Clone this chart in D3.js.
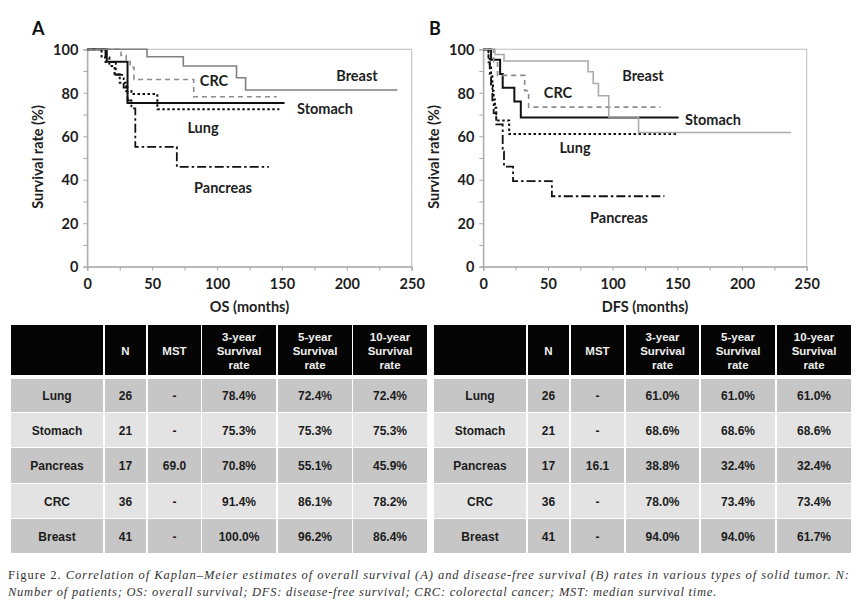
<!DOCTYPE html>
<html><head><meta charset="utf-8">
<script src="https://cdn.jsdelivr.net/npm/d3@7"></script>
<style>
html,body{margin:0;padding:0;background:#fff;}
svg{display:block;}
</style></head>
<body>
<svg id="chart" width="865" height="610"></svg>
<script>
// ---------- DATA ----------
const tumors = ["Lung", "Stomach", "Pancreas", "CRC", "Breast"];
const xTicks = [0, 50, 100, 150, 200, 250];
const yTicks = [0, 20, 40, 60, 80, 100];

// Overall survival (panel A): [months, survival %] step points
const osLung     = [[0,100],[11,96.2],[17,92.3],[21,88.5],[25,84.6],[30,80.8],[34,79.4],[54,72.4],[148,72.4]];
const osStomach  = [[0,100],[15,94.3],[31,75.3],[152,75.3]];
const osPancreas = [[0,100],[14,94.1],[22,88.2],[28,82.4],[31,76.5],[34,72.8],[37,55.1],[69,45.9],[140,45.9]];
const osCRC      = [[0,100],[26,97.2],[30,94.4],[33,91.7],[36,86.1],[82,78.2],[146,78.2]];
const osBreast   = [[0,100],[46,96.6],[74,92.3],[115,86.9],[122,81.3],[239,81.3]];

// Disease-free survival (panel B)
const dfsLung     = [[0,100],[4,96.2],[5,92.3],[6,88.5],[7,84.6],[7.5,80.8],[8,76.9],[9,73.1],[10,67.3],[20,61.0],[150,61.0]];
const dfsStomach  = [[0,100],[6,95.2],[13,88.6],[15,82.3],[24,76.0],[29,68.6],[151,68.6]];
const dfsPancreas = [[0,100],[4,94.1],[5,88.2],[6,82.4],[7,76.5],[8,70.6],[10,65.5],[15,52.9],[16,46.0],[23,39.4],[53,32.4],[140,32.4]];
const dfsCRC      = [[0,100],[8,94.4],[11,88.0],[32,81.0],[35,73.4],[137,73.4]];
const dfsBreast   = [[0,100],[9,97.6],[16,94.6],[81,89.7],[85,84.3],[89,78.6],[97,68.9],[120,61.7],[238,61.7]];

// Table values
const patientsN = ["26", "21", "17", "36", "41"];
const osMST  = ["-", "-", "69.0", "-", "-"];
const os3yr  = ["78.4%", "75.3%", "70.8%", "91.4%", "100.0%"];
const os5yr  = ["72.4%", "75.3%", "55.1%", "86.1%", "96.2%"];
const os10yr = ["72.4%", "75.3%", "45.9%", "78.2%", "86.4%"];
const dfsMST  = ["-", "-", "16.1", "-", "-"];
const dfs3yr  = ["61.0%", "68.6%", "38.8%", "78.0%", "94.0%"];
const dfs5yr  = ["61.0%", "68.6%", "32.4%", "73.4%", "94.0%"];
const dfs10yr = ["61.0%", "68.6%", "32.4%", "73.4%", "61.7%"];
const tableHeaders = [[""], ["N"], ["MST"], ["3-year","Survival","rate"], ["5-year","Survival","rate"], ["10-year","Survival","rate"]];

const captionLead = "Figure 2. ";
const captionLine1 = "Correlation of Kaplan–Meier estimates of overall survival (A) and disease-free survival (B) rates in various types of solid tumor. N:";
const captionLine2 = "Number of patients; OS: overall survival; DFS: disease-free survival; CRC: colorectal cancer; MST: median survival time.";

// ---------- DRAW ----------
const svg = d3.select("#chart");
const chartFont = "Lato, 'Open Sans', sans-serif";

const styles = {
  Lung:     {stroke:"#111", width:2,   dash:"2.5,2.5"},
  Stomach:  {stroke:"#111", width:2,   dash:null},
  Pancreas: {stroke:"#111", width:1.8, dash:"9,3,2.5,3"},
  CRC:      {stroke:"#8c8c8c", width:1.6, dash:"5,4"},
  Breast:   {stroke:"#808080", width:1.6, dash:null}
};

function panel(opts) {
  const x = d3.scaleLinear().domain([0, 250]).range([opts.x0, opts.x1]);
  const y = d3.scaleLinear().domain([0, 100]).range([266.7, 49.3]);
  const g = svg.append("g");

  g.append("rect").attr("x", x(0)).attr("y", y(100))
    .attr("width", x(250) - x(0)).attr("height", y(0) - y(100))
    .attr("fill", "none").attr("stroke", "#c8c8c8").attr("stroke-width", 1.2);

  const yAxis = d3.axisLeft(y).tickValues(d3.range(0, 101, 10)).tickSize(4)
    .tickFormat(d => yTicks.includes(d) ? d : "");
  const xAxis = d3.axisBottom(x).tickValues(d3.range(0, 251, 25)).tickSize(4)
    .tickFormat(d => xTicks.includes(d) ? d : "");
  const ya = g.append("g").attr("transform", `translate(${x(0)},0)`).call(yAxis);
  const xa = g.append("g").attr("transform", `translate(0,${y(0)})`).call(xAxis);
  [ya, xa].forEach(a => {
    a.select(".domain").attr("stroke", "#a8a8a8").attr("stroke-width", 1.2);
    a.selectAll(".tick line").attr("stroke", "#a8a8a8").attr("stroke-width", 1);
    a.selectAll(".tick text").attr("font-family", chartFont).attr("font-weight", 700)
      .attr("font-size", 14.5).attr("fill", "#1e1e1e");
  });
  ya.selectAll(".tick text").attr("x", -9).attr("dy", "0.36em");
  xa.selectAll(".tick text").attr("y", 12);

  const line = d3.line().x(d => x(d[0])).y(d => y(d[1])).curve(d3.curveStepAfter);
  opts.series.forEach((s, i) => {
    const st = Object.assign({}, styles[tumors[i]]);
    if (tumors[i] === "Breast" && opts.breastColor) st.stroke = opts.breastColor;
    g.append("path").datum(s).attr("d", line).attr("fill", "none")
      .attr("stroke", st.stroke).attr("stroke-width", st.width)
      .attr("stroke-dasharray", st.dash);
  });

  opts.labels.forEach((p, i) => {
    g.append("text").attr("x", p[0]).attr("y", p[1]).text(tumors[i])
      .attr("text-anchor", "middle").attr("dominant-baseline", "central")
      .attr("font-family", chartFont).attr("font-weight", 700).attr("font-size", 14.5)
      .attr("fill", "#1e1e1e");
  });

  g.append("text").attr("x", opts.letterX).attr("y", 35).text(opts.letter)
    .attr("font-family", chartFont).attr("font-weight", 700).attr("font-size", 18).attr("fill", "#111");
  g.append("text").attr("transform", `translate(${opts.x0 - 50},157) rotate(-90)`)
    .text("Survival rate (%)").attr("text-anchor", "middle").attr("dominant-baseline", "central")
    .attr("font-family", chartFont).attr("font-weight", 700).attr("font-size", 14.5).attr("fill", "#1e1e1e");
  g.append("text").attr("x", (opts.x0 + opts.x1) / 2).attr("y", 312).text(opts.xTitle)
    .attr("text-anchor", "middle")
    .attr("font-family", chartFont).attr("font-weight", 700).attr("font-size", 14.5).attr("fill", "#1e1e1e");
}

// label positions in the order of `tumors`: Lung, Stomach, Pancreas, CRC, Breast
panel({x0: 87.3, x1: 411.7, letter: "A", letterX: 32, xTitle: "OS (months)",
  series: [osLung, osStomach, osPancreas, osCRC, osBreast],
  labels: [[203,127],[325,108],[223,187],[214,80],[357,75]]});
panel({x0: 483.3, x1: 806.7, letter: "B", letterX: 429, xTitle: "DFS (months)", breastColor: "#ababab",
  series: [dfsLung, dfsStomach, dfsPancreas, dfsCRC, dfsBreast],
  labels: [[575,147],[713,119],[619,217],[558,92],[643,75]]});

// ---------- TABLES ----------
const rowTop = [379, 413, 448, 484, 519];
const rowBot = [412, 447, 483, 518, 553];
function table(colStart, colEnd, cols) {
  const g = svg.append("g").attr("font-family", "'Liberation Sans', Arial, sans-serif").attr("font-weight", 700);
  tableHeaders.forEach((h, c) => {
    g.append("rect").attr("x", colStart[c]).attr("y", 325)
      .attr("width", colEnd[c] - colStart[c]).attr("height", 50).attr("fill", "#050505");
    const cx = (colStart[c] + colEnd[c]) / 2;
    h.forEach((t, k) => {
      g.append("text").attr("x", cx).attr("y", 351 + (k - (h.length - 1) / 2) * 14.2)
        .attr("text-anchor", "middle").attr("dominant-baseline", "central")
        .attr("font-size", 11.5).attr("fill", "#eeeeee").text(t);
    });
  });
  tumors.forEach((name, r) => {
    const vals = [name].concat(cols.map(a => a[r]));
    vals.forEach((v, c) => {
      g.append("rect").attr("x", colStart[c]).attr("y", rowTop[r])
        .attr("width", colEnd[c] - colStart[c]).attr("height", rowBot[r] - rowTop[r])
        .attr("fill", r % 2 === 0 ? "#c6c6c6" : "#e3e3e3");
      g.append("text").attr("x", (colStart[c] + colEnd[c]) / 2).attr("y", (rowTop[r] + rowBot[r]) / 2 + 0.5)
        .attr("text-anchor", "middle").attr("dominant-baseline", "central")
        .attr("font-size", 12).attr("fill", "#1c1c1c").text(v);
    });
  });
}
table([11,105,148,202,278,353], [103,146,201,276,352,427], [patientsN, osMST, os3yr, os5yr, os10yr]);
table([434,528,571,626,701,777], [526,569,624,699,775,851], [patientsN, dfsMST, dfs3yr, dfs5yr, dfs10yr]);

// ---------- CAPTION ----------
const capFont = "'Liberation Serif', 'Times New Roman', serif";
function fitText(sel, target) {
  const n = sel.text().length;
  const w = sel.node().getComputedTextLength();
  sel.attr("letter-spacing", ((target - w) / n).toFixed(3) + "px");
}
const c1 = svg.append("text").attr("x", 8).attr("y", 579)
  .attr("font-family", capFont).attr("font-size", 12.5).attr("fill", "#333");
c1.append("tspan").text(captionLead);
c1.append("tspan").attr("font-style", "italic").text(captionLine1);
fitText(c1, 842);
const c2 = svg.append("text").attr("x", 8).attr("y", 596)
  .attr("font-family", capFont).attr("font-size", 12.5).attr("font-style", "italic").attr("fill", "#333")
  .text(captionLine2);
fitText(c2, 709);
</script>
</body></html>
